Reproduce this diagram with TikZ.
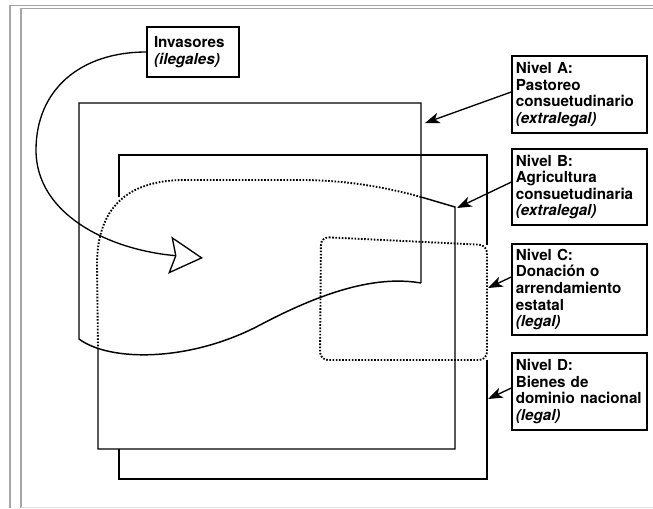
\documentclass[tikz,border=0pt]{standalone}
\usepackage{fontspec}
\setsansfont{TeX Gyre Heros}
\usepackage{tikz}
\usetikzlibrary{arrows.meta}

\newcommand{\labfont}{\fontsize{11.4}{12.4}\selectfont\sffamily\bfseries\hyphenpenalty=10000}

\begin{document}
\begin{tikzpicture}[x=0.75pt, y=-0.75pt,
  lbl/.style={draw, line width=1pt, font=\labfont, align=left, text width=95.5pt, inner xsep=2.9pt},
  zone/.style={line width=1.1pt},
  dotzone/.style={line width=1.4pt, dash pattern=on 1.2pt off 1.2pt},
  parrow/.style={-{Stealth[length=11pt, width=8pt, inset=3pt]}, line width=1pt},
  iarrow/.style={-{Stealth[open, fill=white, length=25pt, width=28pt, inset=4pt]}, line width=1pt},
  frame/.style={line width=1.3pt, color=gray!70}
]
\useasboundingbox (0,0) rectangle (653,508);

% --- Page frame ---
\draw[frame] (10,508) -- (10,5.5) -- (653,5.5);
\draw[frame] (21,508) -- (21,8.5) -- (653,8.5);
\draw[line width=0.6pt, gray!25] (21,507) -- (653,507);

% --- Nivel D: dominio nacional ---
\draw[zone] (119,197) -- (119,155) -- (487,155) -- (487,245);
\draw[zone] (487,360) -- (487,479) -- (119,479) -- (119,449);

% --- Nivel A: pastoreo ---
\draw[zone] (421,283) -- (421,103) -- (79,103) -- (79,339)
  .. controls (110,362) and (190,362) .. (260,325)
  .. controls (330,288) and (380,276) .. (421,283);

% --- Nivel B: agricultura ---
\draw[zone] (421,197) -- (455,207) -- (455,449) -- (98,449) -- (98,349);
\draw[dotzone] (421,197) .. controls (385,187) and (345,180) .. (300,180)
  -- (180,180) .. controls (120,182) and (97,215) .. (97,265) -- (98,349);

% --- Nivel C: donacion ---
\draw[dotzone, rounded corners=6pt] (321,237) -- (487,245) -- (487,360) -- (320,360) -- cycle;

% --- Labels ---
\node[lbl, minimum height=57.75pt] (nivA) at (579.5,94.5) {Nivel A:\\Pastoreo\\consuetudinario\\\textit{(extralegal)}};
\node[lbl, minimum height=57pt] (nivB) at (579.5,187) {Nivel B:\\Agricultura\\consuetudinaria\\\textit{(extralegal)}};
\node[lbl, minimum height=68.25pt] (nivC) at (579.5,289.5) {Nivel C:\\Donación o\\arrendamiento\\estatal\\\textit{(legal)}};
\node[lbl, minimum height=57.75pt] (nivD) at (579.5,391.5) {Nivel D:\\Bienes de\\dominio nacional\\\textit{(legal)}};
\node[lbl, text width=58.5pt, inner xsep=5.25pt, minimum height=37.5pt] (inv) at (193,52) {Invasores\\\textit{(ilegales)}};

% --- Arrow ends ---
\coordinate (tipA) at (425,123);
\coordinate (tipB) at (457,208);
\coordinate (tipC) at (488,288);
\coordinate (tipD) at (488,399);
\coordinate (tipInv) at (203,258);

% --- Arrows ---
\draw[parrow] ([yshift=1.9pt]nivA.west) -- (tipA);
\draw[parrow] ([yshift=3.7pt]nivB.west) -- (tipB);
\draw[parrow] ([yshift=9.4pt]nivC.west) -- (tipC);
\draw[parrow] ([yshift=2.6pt]nivD.west) -- (tipD);
\draw[iarrow] (inv.west) .. controls (80,52) and (36,90) .. (36,150)
  .. controls (36,215) and (110,250) .. (tipInv);

\end{tikzpicture}
\end{document}
